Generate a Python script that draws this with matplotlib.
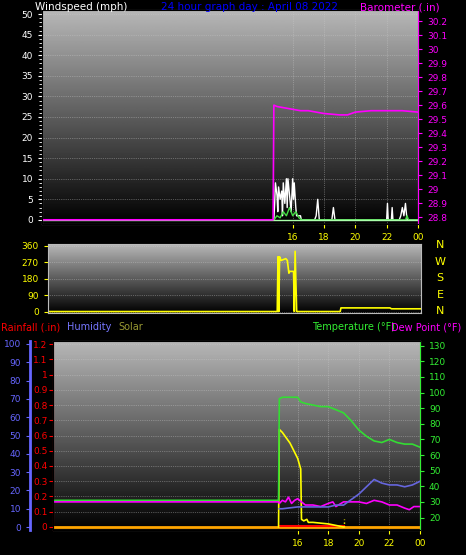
import numpy as np
import matplotlib
matplotlib.use("Agg")
import matplotlib.pyplot as plt

W, H = 466, 555
# ---- data ----
gust_t = [0, 14.8, 14.85, 14.9, 15.0, 15.05, 15.1, 15.2, 15.3, 15.35, 15.4, 15.5, 15.6, 15.65, 15.7, 15.8, 15.9, 16.0, 16.05, 16.1, 16.2, 16.25, 16.3, 16.4, 16.5, 16.55, 17.4, 17.5, 17.6, 17.7, 18.5, 18.6, 18.7, 22.0, 22.05, 22.1, 22.3, 22.35, 22.4, 22.8, 22.9, 23.0, 23.1, 23.2, 23.3, 24]
gust_v = [0, 0, 4, 9, 6, 2, 8, 5, 7, 1, 9, 4, 10, 3, 10, 6, 2, 10, 5, 9, 3, 1, 1, 1, 1, 0, 0, 1, 5, 0, 0, 3, 0, 0, 4, 0, 0, 3, 0, 0, 1, 3, 1, 4, 0, 0]
avg_t = [0, 14.8, 15.0, 15.2, 15.4, 15.6, 15.8, 16.0, 16.2, 16.4, 16.6, 23.2, 23.3, 23.4, 24]
avg_v = [0, 0, 1, 0.5, 2, 1, 3, 1, 2, 0.5, 0, 0, 1, 0, 0]
baro_t = [0, 14.75, 14.8, 15.0, 15.5, 16.0, 16.5, 17.0, 18.0, 19.0, 19.5, 20.0, 21.0, 22.0, 23.0, 24.0]
baro_v = [28.78, 28.78, 29.60, 29.59, 29.58, 29.57, 29.56, 29.56, 29.54, 29.53, 29.53, 29.55, 29.56, 29.56, 29.56, 29.55]

dir_t = [0, 14.75, 14.8, 14.85, 14.9, 15.0, 15.3, 15.4, 15.5, 15.55, 15.8, 15.85, 15.9, 16.0, 18.8, 18.85, 22.0, 22.1, 24]
dir_v = [0, 0, 300, 0, 300, 280, 290, 280, 210, 220, 220, 0, 330, 0, 0, 20, 20, 15, 15]

temp_t = [0, 14.75, 14.8, 15.0, 15.5, 16.0, 16.2, 16.5, 17.0, 17.5, 18.0, 18.5, 19.0, 19.5, 20.0, 20.5, 21.0, 21.5, 22.0, 22.5, 23.0, 23.5, 24]
temp_v = [31, 31, 96, 97, 97, 97, 94, 93, 92, 91, 91, 89, 87, 82, 76, 72, 69, 68, 70, 68, 67, 67, 65]
dew_t = [0, 14.75, 14.8, 15.0, 15.2, 15.4, 15.6, 15.8, 16.0, 16.5, 17.0, 17.5, 18.0, 18.3, 18.5, 19.0, 19.5, 20.0, 20.5, 21.0, 21.5, 22.0, 22.5, 23.0, 23.3, 23.6, 24]
dew_v = [30, 30, 29, 31, 30, 33, 29, 31, 32, 28, 28, 27, 29, 30, 27, 30, 30, 30, 29, 31, 30, 28, 28, 26, 25, 27, 27]
hum_t = [14.8, 15.0, 16.0, 17.0, 18.0, 18.5, 19.0, 19.5, 20.0, 20.5, 21.0, 21.5, 22.0, 22.5, 23.0, 23.5, 24]
hum_v = [10, 10, 11, 11, 11, 12, 12, 15, 18, 22, 26, 24, 23, 23, 22, 23, 25]
solar_t = [14.75, 14.8, 15.0, 15.5, 16.0, 16.2, 16.25, 16.4, 16.6, 16.7, 17.0, 18.0, 18.5, 19.0]
solar_v = [0, 0.64, 0.62, 0.55, 0.45, 0.38, 0.05, 0.04, 0.05, 0.03, 0.03, 0.02, 0.01, 0.0]
rain_t = [0, 24]
rain_v = [0, 0]

hours = [16, 18, 20, 22, 24]
hour_lbl = ["16", "18", "20", "22", "00"]

fig = plt.figure(figsize=(W/100, H/100), dpi=100, facecolor="black")

def ax_px(l, t, r, b):
    return fig.add_axes([l/W, 1-b/H, (r-l)/W, (b-t)/H])

grad = np.linspace(0.72, 0.0, 256).reshape(-1, 1)

def style(ax, ylim):
    ax.set_facecolor("black")
    ax.imshow(grad, cmap="gray", vmin=0, vmax=1, aspect="auto",
              extent=[0, 24, ylim[0], ylim[1]], zorder=0)
    ax.set_xlim(0, 24)
    ax.set_ylim(*ylim)
    for s in ax.spines.values():
        s.set_color("#bbbbbb")
    ax.tick_params(colors="yellow", labelsize=6.5, length=3)
    ax.set_xticks(hours)

GRID = dict(color="#cccccc", ls=":", lw=0.5, alpha=0.7)

# ---- top ----
ax1 = ax_px(42, 10, 418, 224)
style(ax1, (-1, 51))
ax1.set_yticks(range(0, 51, 5))
ax1.tick_params(axis="y", colors="white", labelcolor="white")
ax1.set_yticks(np.arange(0, 51, 1), minor=True)
ax1.tick_params(axis="y", which="minor", colors="white", length=2)
ax1.set_xticklabels(hour_lbl, color="yellow")
ax1.grid(True, **GRID)
ax1.plot(gust_t, gust_v, color="white", lw=1)
ax1.plot(avg_t, avg_v, color="#44dd44", lw=1)
ax1.axhline(0, color="#aaffaa", lw=1)
ax1b = ax1.twinx()
ax1b.set_ylim(28.75, 30.28)
bt = np.round(np.arange(28.8, 30.21, 0.1), 1)
ax1b.set_yticks(bt)
ax1b.set_yticklabels(["%g" % v for v in bt])
ax1b.tick_params(colors="magenta", labelsize=6.5, length=3)
ax1b.spines["right"].set_color("magenta")
ax1b.plot(baro_t, baro_v, color="magenta", lw=1.2)
fig.text(35/W, 1-7/H, "Windspeed (mph)", color="white", fontsize=7.5, ha="left", va="center")
fig.text(250/W, 1-7/H, "24 hour graph day : April 08 2022", color="blue", fontsize=7.5, ha="center", va="center")
fig.text(440/W, 1-7/H, "Barometer (.in)", color="magenta", fontsize=7.5, ha="right", va="center")

# ---- wind direction ----
ax2 = ax_px(48, 244, 421, 313)
style(ax2, (-8, 370))
ax2.set_yticks([0, 90, 180, 270, 360])
ax2.set_xticklabels([])
ax2.tick_params(axis="x", length=0)
ax2.grid(True, axis="y", **GRID)
ax2.plot(dir_t, dir_v, color="yellow", lw=1.2)
for i, c in enumerate(["N", "W", "S", "E", "N"]):
    fig.text(440/W, 1-(245+i*16.5)/H, c, color="yellow", fontsize=8, ha="center", va="center")
fig.text(1/W, 1-327/H, "Rainfall (.in)", color="red", fontsize=7, va="center")
fig.text(67/W, 1-327/H, "Humidity", color="#7777ff", fontsize=7, va="center")
fig.text(118/W, 1-327/H, "Solar", color="#999933", fontsize=7, va="center")
fig.text(312/W, 1-327/H, "Temperature (\u00b0F)", color="#33ee33", fontsize=7, va="center")
fig.text(461/W, 1-327/H, "Dew Point (\u00b0F)", color="magenta", fontsize=7, va="center", ha="right")

# ---- bottom ----
ax3 = ax_px(53, 341, 420, 530)
style(ax3, (-0.02, 1.22))
rt = np.round(np.arange(0, 1.21, 0.1), 1)
ax3.set_yticks(rt)
ax3.set_yticklabels(["0"] + ["%g" % v for v in rt[1:]])
ax3.tick_params(axis="y", colors="red", labelcolor="red", pad=1)
ax3.spines["left"].set_color("red")
ax3.set_xticklabels(hour_lbl, color="yellow")
ax3.grid(True, **GRID)
ax3.plot(rain_t, rain_v, color="orange", lw=2)
ax3.plot([14.8, 19.0], [0.003, 0.003], color="red", lw=1.5)
ax3.plot(solar_t, solar_v, color="yellow", lw=1.2)
ax3.plot([19.0, 19.0], [0, 0.05], color="yellow", lw=1, ls=":")
ax3t = ax3.twinx()
ax3t.set_ylim(12, 133)
ax3t.set_yticks(range(20, 131, 10))
ax3t.tick_params(colors="#33ee33", labelsize=6.5, length=3)
ax3t.spines["right"].set_color("#33ee33")
ax3t.plot(temp_t, temp_v, color="#33dd33", lw=1.2)
ax3t.plot(dew_t, dew_v, color="magenta", lw=1.2)
ax3h = ax3.twinx()
ax3h.set_ylim(-1.6, 101.6)
ax3h.plot(hum_t, hum_v, color="#6666dd", lw=1.2)
ax3h.set_yticks([])
for s in ax3h.spines.values():
    s.set_visible(False)
axh = ax_px(30, 341, 31, 530)
axh.set_ylim(-1.6, 101.6)
axh.set_facecolor("black")
for k in ["top", "bottom", "right"]:
    axh.spines[k].set_visible(False)
axh.spines["left"].set_color("#6666ff")
axh.spines["left"].set_linewidth(2)
axh.set_xticks([])
axh.set_yticks(range(0, 101, 10))
axh.tick_params(colors="#6666ff", labelsize=6.5, length=3)

fig.savefig("out.png", dpi=100, facecolor="black")
